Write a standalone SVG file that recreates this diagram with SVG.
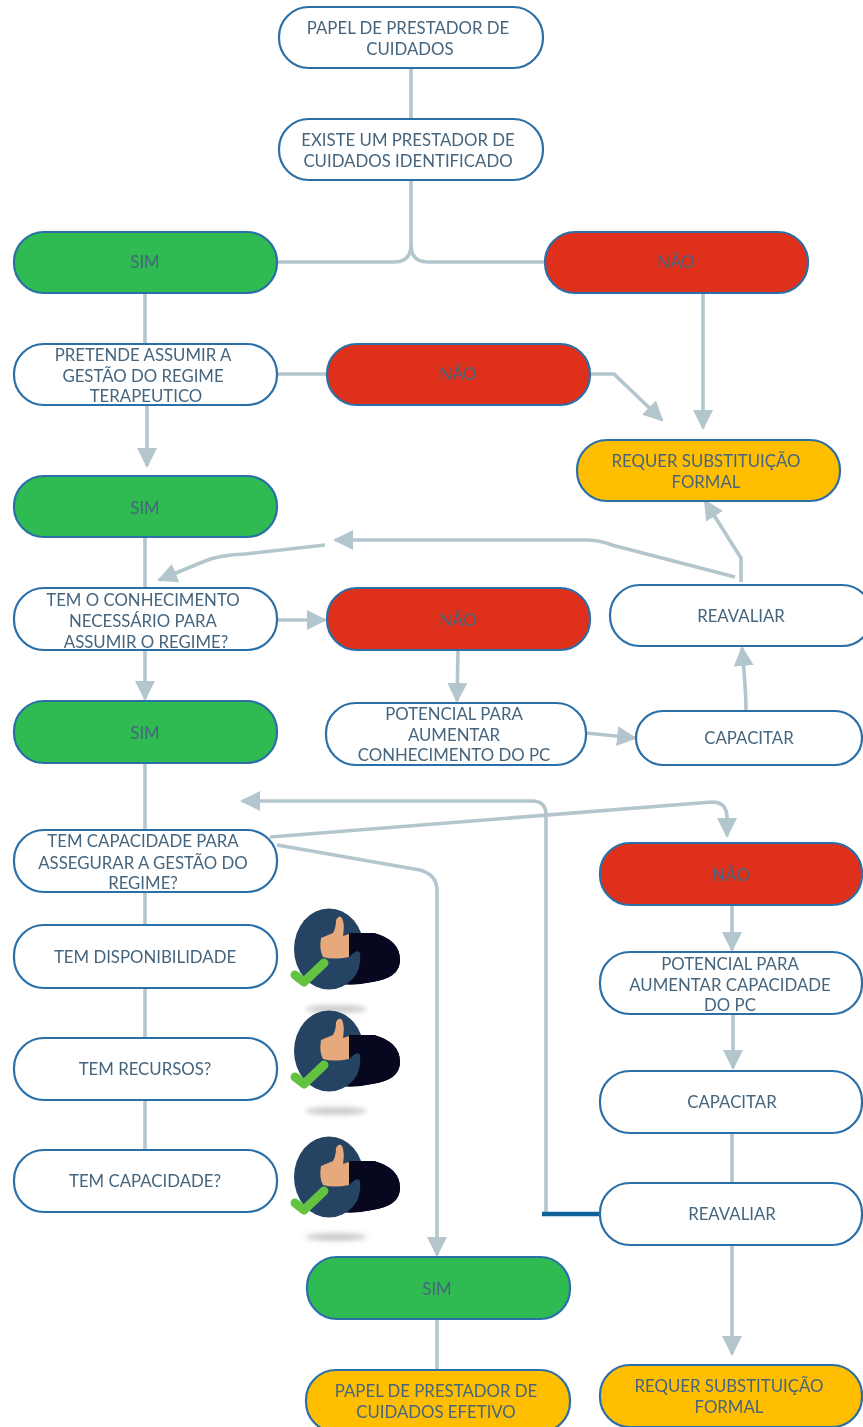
<svg xmlns="http://www.w3.org/2000/svg" width="863" height="1427" viewBox="0 0 863 1427">
<style>
.n{stroke:#2a6fa8;stroke-width:2.2}
.w{fill:#fff}.g{fill:#30bb52}.r{fill:#df301b}.y{fill:#ffbe00}
text{font-family:"Lato","Noto Sans",sans-serif;font-size:16.800px;fill:#45657e;text-anchor:middle;filter:url(#s);transform:translateY(1px)}
.c{fill:none;stroke:#b4c6cd;stroke-width:3.6}
.a{marker-end:url(#ah)}
</style>
<defs>
<marker id="ah" markerUnits="userSpaceOnUse" markerWidth="22" markerHeight="22" refX="18" refY="10" orient="auto"><path d="M0 0L20 10L0 20Z" fill="#b4c6cd"/></marker>
<filter id="b" x="-30%" y="-100%" width="160%" height="300%"><feGaussianBlur stdDeviation="2.5"/></filter>
<filter id="s" x="-5%" y="-20%" width="110%" height="140%"><feGaussianBlur stdDeviation="0.35"/></filter>
<g id="thumb">
<path d="M50 25H84Q110 32 110 52Q110 70 82 74Q66 78 50 76Z" fill="#07071f"/>
<ellipse cx="39" cy="41" rx="35" ry="40.500" fill="#254463"/>
<path d="M59 25H84Q110 32 110 52Q110 70 82 74Q72 76 62 74Q72 60 70 45Q68 40 59 49Z" fill="#07071f"/>
<path d="M43 25Q46 20 46 12Q49 6 52 10Q55 16 53 28L59 26L59 49Q44 52 33 49Q29 42 31 30Z" fill="#e6a97c"/>
<path d="M5 67L14 74L34 55" fill="none" stroke="#63c23f" stroke-width="9" stroke-linecap="round" stroke-linejoin="round"/>
</g>
</defs>

<g id="connectors">
<path class="c" d="M411 68V119"/>
<path class="c" d="M411 180V245Q411 262 394 262H277"/>
<path class="c" d="M411 245Q411 262 428 262H545"/>
<path class="c" d="M145 293V344"/>
<path class="c a" d="M703 293V428"/>
<path class="c" d="M277 374H327"/>
<path class="c a" d="M591 374H614L662 420"/>
<path class="c a" d="M147 405V466"/>
<path class="c" d="M145 537V588"/>
<path class="c a" d="M741 582V558L705 501"/>
<path class="c a" d="M735 577L612 545Q600 540 585 540H335"/>
<path class="c a" d="M325 545L245 554Q220 555 205 561L159 580"/>
<path class="c a" d="M277 620H325"/>
<path class="c a" d="M145 650V699"/>
<path class="c a" d="M458 650L457 701"/>
<path class="c a" d="M586 733L635 738"/>
<path class="c a" d="M746 711Q746 690 742 648"/>
<path class="c" d="M145 763V830"/>
<path class="c a" d="M546 1214V815Q546 801 532 801H242"/>
<path class="c a" d="M270 837L712 802Q727 802 727 818V836"/>
<path class="c a" d="M277 845L420 870Q437 875 437 890V1255"/>
<path class="c" d="M145 892V925"/>
<path class="c" d="M145 988V1038"/>
<path class="c" d="M145 1100V1150"/>
<path class="c a" d="M732 906V950"/>
<path class="c a" d="M733 1015V1068"/>
<path class="c" d="M732 1133V1183"/>
<path class="c a" d="M732 1245V1354"/>
<path class="c" d="M437 1319V1370"/>
<path d="M542 1214H600" fill="none" stroke="#0f6298" stroke-width="4.500"/>
</g>

<g id="n1"><rect class="n w" x="279" y="7" width="264" height="61" rx="30"/><text x="408" y="33">PAPEL DE PRESTADOR DE</text><text x="410" y="54">CUIDADOS</text></g>
<g id="n2"><rect class="n w" x="279" y="119" width="264" height="61" rx="30"/><text x="408" y="145">EXISTE UM PRESTADOR DE</text><text x="408" y="166">CUIDADOS IDENTIFICADO</text></g>
<g id="n3"><rect class="n g" x="14" y="232" width="263" height="61" rx="30"/><text x="145" y="267">SIM</text></g>
<g id="n4"><rect class="n r" x="545" y="232" width="263" height="61" rx="30"/><text x="676" y="267">NÃO</text></g>
<g id="n5"><rect class="n w" x="14" y="344" width="263" height="61" rx="30"/><text x="143" y="360">PRETENDE ASSUMIR A</text><text x="143" y="381">GESTÃO DO REGIME</text><text x="146" y="401">TERAPEUTICO</text></g>
<g id="n6"><rect class="n r" x="327" y="344" width="263" height="61" rx="30"/><text x="458" y="379">NÃO</text></g>
<g id="n7"><rect class="n y" x="577" y="440" width="263" height="61" rx="30"/><text x="706" y="466">REQUER SUBSTITUIÇÃO</text><text x="706" y="487">FORMAL</text></g>
<g id="n8"><rect class="n g" x="14" y="476" width="263" height="61" rx="30"/><text x="145" y="513">SIM</text></g>
<g id="n9"><rect class="n w" x="14" y="588" width="263" height="62" rx="30"/><text x="143" y="605">TEM O CONHECIMENTO</text><text x="143" y="626">NECESSÁRIO PARA</text><text x="146" y="647">ASSUMIR O REGIME?</text></g>
<g id="n10"><rect class="n r" x="327" y="588" width="263" height="62" rx="30"/><text x="458" y="625">NÃO</text></g>
<g id="n11"><rect class="n w" x="610" y="585" width="262" height="61" rx="30"/><text x="741" y="621">REAVALIAR</text></g>
<g id="n12"><rect class="n g" x="14" y="701" width="263" height="62" rx="30"/><text x="145" y="738">SIM</text></g>
<g id="n13"><rect class="n w" x="326" y="703" width="260" height="62" rx="30"/><text x="454" y="719">POTENCIAL PARA</text><text x="454" y="740">AUMENTAR</text><text x="454" y="760">CONHECIMENTO DO PC</text></g>
<g id="n14"><rect class="n w" x="636" y="711" width="226" height="54" rx="27"/><text x="749" y="743">CAPACITAR</text></g>
<g id="n15"><rect class="n w" x="14" y="830" width="263" height="62" rx="30"/><text x="143" y="846">TEM CAPACIDADE PARA</text><text x="143" y="868">ASSEGURAR A GESTÃO DO</text><text x="143" y="888">REGIME?</text></g>
<g id="n16"><rect class="n w" x="14" y="925" width="263" height="63" rx="30"/><text x="145" y="962">TEM DISPONIBILIDADE</text></g>
<g id="n17"><rect class="n w" x="14" y="1038" width="263" height="62" rx="30"/><text x="145" y="1074">TEM RECURSOS?</text></g>
<g id="n18"><rect class="n w" x="14" y="1150" width="263" height="62" rx="30"/><text x="145" y="1186">TEM CAPACIDADE?</text></g>
<g id="n19"><rect class="n r" x="600" y="843" width="262" height="62" rx="30"/><text x="731" y="880">NÃO</text></g>
<g id="n20"><rect class="n w" x="600" y="952" width="262" height="62" rx="30"/><text x="730" y="969">POTENCIAL PARA</text><text x="730" y="990">AUMENTAR CAPACIDADE</text><text x="730" y="1010">DO PC</text></g>
<g id="n21"><rect class="n w" x="600" y="1071" width="262" height="62" rx="30"/><text x="732" y="1107">CAPACITAR</text></g>
<g id="n22"><rect class="n w" x="600" y="1183" width="262" height="62" rx="30"/><text x="732" y="1219">REAVALIAR</text></g>
<g id="n23"><rect class="n g" x="307" y="1257" width="263" height="62" rx="30"/><text x="437" y="1294">SIM</text></g>
<g id="n24"><rect class="n y" x="306" y="1370" width="264" height="62" rx="30"/><text x="436" y="1396">PAPEL DE PRESTADOR DE</text><text x="436" y="1417">CUIDADOS EFETIVO</text></g>
<g id="n25"><rect class="n y" x="600" y="1365" width="262" height="62" rx="30"/><text x="729" y="1391">REQUER SUBSTITUIÇÃO</text><text x="729" y="1412">FORMAL</text></g>

<g id="icon1"><ellipse cx="336" cy="1009" rx="31" ry="4" fill="#ccc" filter="url(#b)"/><use href="#thumb" x="290" y="908"/></g>
<g id="icon2"><ellipse cx="336" cy="1111" rx="31" ry="4" fill="#ccc" filter="url(#b)"/><use href="#thumb" x="290" y="1010"/></g>
<g id="icon3"><ellipse cx="336" cy="1237" rx="31" ry="4" fill="#ccc" filter="url(#b)"/><use href="#thumb" x="290" y="1136"/></g>
</svg>
